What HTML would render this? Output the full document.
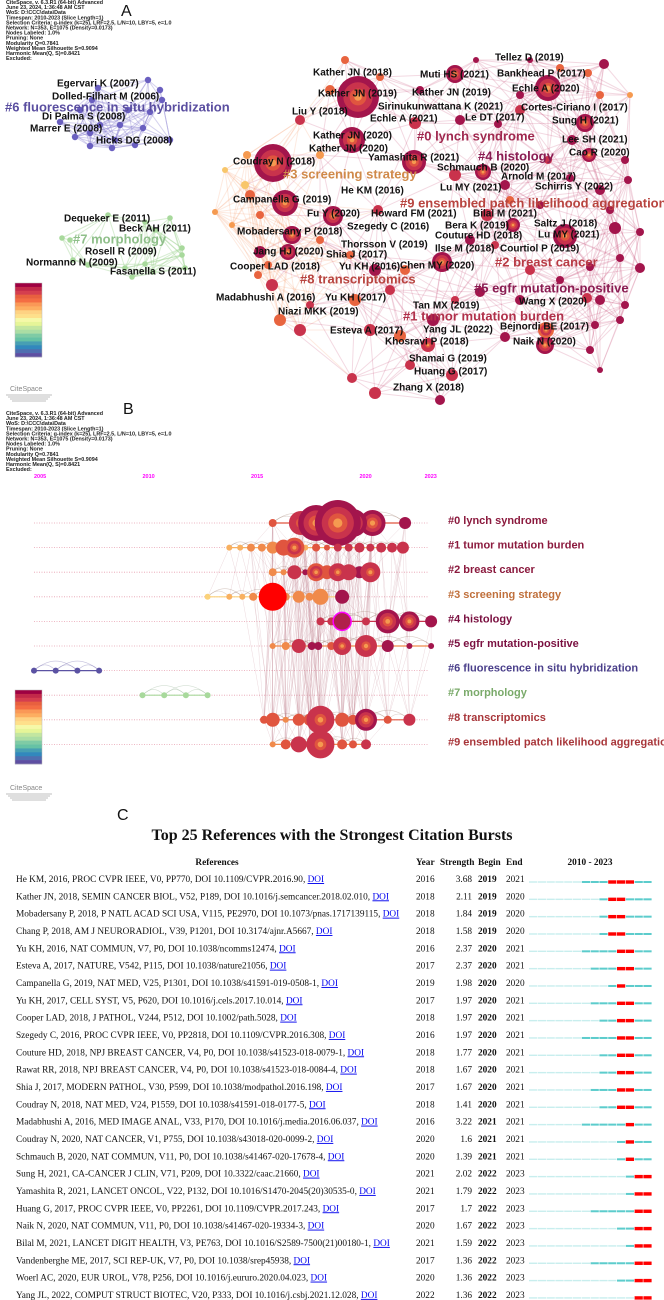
<!DOCTYPE html>
<html><head><meta charset="utf-8">
<style>
html,body{margin:0;padding:0;background:#fff;}
svg{display:block;}
.info{font-family:"Liberation Sans",sans-serif;font-size:5.4px;fill:#222;font-weight:bold;}
.lab{font-family:"Liberation Sans",sans-serif;font-weight:bold;font-size:10px;fill:#111;}
.clu{font-family:"Liberation Sans",sans-serif;font-weight:bold;font-size:13px;}
.bl{font-family:"Liberation Sans",sans-serif;font-weight:bold;font-size:11px;}
.tt{font-family:"Liberation Serif",serif;font-size:9.3px;fill:#111;}
.th{font-family:"Liberation Serif",serif;font-size:9.3px;font-weight:bold;fill:#111;}
</style></head>
<body>
<svg id="fig" width="664" height="1300" viewBox="0 0 664 1300" xmlns="http://www.w3.org/2000/svg">
  <g id="panelA"></g>
  <g id="panelB"></g>
  <g id="panelC"></g>
</svg>
<script>
// ---------- Panel B timeline data ----------
const clusterNames = ["#0 lynch syndrome","#1 tumor mutation burden","#2 breast cancer","#3 screening strategy","#4 histology","#5 egfr mutation-positive","#6 fluorescence in situ hybridization","#7 morphology","#8 transcriptomics","#9 ensembled patch likelihood aggregation"];
const clusterColors = ["#8b1a3e","#8b1a3e","#8b1a3e","#c0703c","#7a1040","#7a1040","#4a3f8a","#7aaa6a","#a8363a","#a8363a"];
const timelineTicks = [2005,2010,2015,2020,2023];
const nodeYears = [
 [2016.0,2017.3,2018.0,2019.0,2019.7,2020.6,2022.1],
 [2014.0,2014.5,2015.0,2015.5,2016.0,2016.5,2017.0,2017.5,2018.0,2018.5,2019.0,2019.5,2020.0,2020.5,2021.0,2021.5,2022.0],
 [2016.0,2016.5,2017.0,2017.5,2018.0,2018.5,2019.0,2019.5,2020.0,2020.5],
 [2013.0,2014.0,2014.6,2015.1,2016.0,2016.6,2017.2,2017.7,2018.2,2019.2],
 [2018.2,2018.7,2019.2,2020.3,2021.3,2022.3,2023.3],
 [2016.0,2016.6,2017.2,2017.8,2018.1,2018.7,2019.2,2020.3,2021.3,2022.3,2023.3],
 [2005.0,2006.0,2007.0,2008.0],
 [2010.0,2011.0,2012.0,2013.0],
 [2015.6,2016.0,2016.6,2017.2,2017.7,2018.2,2019.2,2019.7,2020.3,2021.3,2022.3],
 [2016.0,2016.6,2017.2,2017.7,2018.2,2019.2,2019.7,2020.3]
];
const nodeSizes = [
 [4,12,18,23,14,13,6],
 [3,3,4,4,6,8,10,3,4,3,4,4,5,4,5,5,6],
 [4,3,7,3,9,7,9,8,6,10],
 [3,3,3,4,14,4,6,4,8,7],
 [4,4,9,4,12,10,6],
 [3,4,7,4,4,4,9,11,6,3,3],
 [3,3,3,3],
 [3,3,3,3],
 [4,7,3,6,6,14,7,5,11,4,6],
 [3,5,8,4,14,5,4,5]
];
const nodeShade = [
 [2,1,0,0,0,0,0],
 [4,4,3,3,3,2,2,4,2,2,1,1,1,1,1,1,1],
 [3,3,1,0,2,2,1,1,0,1],
 [5,4,4,3,9,3,3,3,3,0],
 [1,1,8,1,0,0,0],
 [3,3,1,0,0,2,1,1,0,0,0],
 [6,6,6,6],
 [7,7,7,7],
 [2,2,3,2,2,1,2,2,0,2,1],
 [3,2,1,2,1,2,2,1]
];
// ---------- Panel C burst data ----------
const refTexts = [
"He KM, 2016, PROC CVPR IEEE, V0, PP770, DOI 10.1109/CVPR.2016.90, ",
"Kather JN, 2018, SEMIN CANCER BIOL, V52, P189, DOI 10.1016/j.semcancer.2018.02.010, ",
"Mobadersany P, 2018, P NATL ACAD SCI USA, V115, PE2970, DOI 10.1073/pnas.1717139115, ",
"Chang P, 2018, AM J NEURORADIOL, V39, P1201, DOI 10.3174/ajnr.A5667, ",
"Yu KH, 2016, NAT COMMUN, V7, P0, DOI 10.1038/ncomms12474, ",
"Esteva A, 2017, NATURE, V542, P115, DOI 10.1038/nature21056, ",
"Campanella G, 2019, NAT MED, V25, P1301, DOI 10.1038/s41591-019-0508-1, ",
"Yu KH, 2017, CELL SYST, V5, P620, DOI 10.1016/j.cels.2017.10.014, ",
"Cooper LAD, 2018, J PATHOL, V244, P512, DOI 10.1002/path.5028, ",
"Szegedy C, 2016, PROC CVPR IEEE, V0, PP2818, DOI 10.1109/CVPR.2016.308, ",
"Couture HD, 2018, NPJ BREAST CANCER, V4, P0, DOI 10.1038/s41523-018-0079-1, ",
"Rawat RR, 2018, NPJ BREAST CANCER, V4, P0, DOI 10.1038/s41523-018-0084-4, ",
"Shia J, 2017, MODERN PATHOL, V30, P599, DOI 10.1038/modpathol.2016.198, ",
"Coudray N, 2018, NAT MED, V24, P1559, DOI 10.1038/s41591-018-0177-5, ",
"Madabhushi A, 2016, MED IMAGE ANAL, V33, P170, DOI 10.1016/j.media.2016.06.037, ",
"Coudray N, 2020, NAT CANCER, V1, P755, DOI 10.1038/s43018-020-0099-2, ",
"Schmauch B, 2020, NAT COMMUN, V11, P0, DOI 10.1038/s41467-020-17678-4, ",
"Sung H, 2021, CA-CANCER J CLIN, V71, P209, DOI 10.3322/caac.21660, ",
"Yamashita R, 2021, LANCET ONCOL, V22, P132, DOI 10.1016/S1470-2045(20)30535-0, ",
"Huang G, 2017, PROC CVPR IEEE, V0, PP2261, DOI 10.1109/CVPR.2017.243, ",
"Naik N, 2020, NAT COMMUN, V11, P0, DOI 10.1038/s41467-020-19334-3, ",
"Bilal M, 2021, LANCET DIGIT HEALTH, V3, PE763, DOI 10.1016/S2589-7500(21)00180-1, ",
"Vandenberghe ME, 2017, SCI REP-UK, V7, P0, DOI 10.1038/srep45938, ",
"Woerl AC, 2020, EUR UROL, V78, P256, DOI 10.1016/j.eururo.2020.04.023, ",
"Yang JL, 2022, COMPUT STRUCT BIOTEC, V20, P333, DOI 10.1016/j.csbj.2021.12.028, "
];
const refYears = [2016,2018,2018,2018,2016,2017,2019,2017,2018,2016,2018,2018,2017,2018,2016,2020,2020,2021,2021,2017,2020,2021,2017,2020,2022];
const strengths = ["3.68","2.11","1.84","1.58","2.37","2.37","1.98","1.97","1.97","1.97","1.77","1.67","1.67","1.41","3.22","1.6","1.39","2.02","1.79","1.7","1.67","1.59","1.36","1.36","1.36"];
const burstBegin = [2019,2019,2019,2019,2020,2020,2020,2020,2020,2020,2020,2020,2020,2020,2021,2021,2021,2022,2022,2022,2022,2022,2022,2022,2022];
const burstEnd = [2021,2020,2020,2020,2021,2021,2020,2021,2021,2021,2021,2021,2021,2021,2021,2021,2021,2023,2023,2023,2023,2023,2023,2023,2023];
const spanStart = 2010, spanEnd = 2023;

const NS="http://www.w3.org/2000/svg";
function mk(tag, parent, attrs){const e=document.createElementNS(NS,tag);for(const k in attrs)e.setAttribute(k,attrs[k]);parent.appendChild(e);return e;}
const shades=["#a3154c","#c9334c","#e0553f","#f08a4b","#f8b060","#fbd27a","#5b52a3","#a8d99c","#ff1010","#ff0000"];

// ---------- info block ----------
const infoLines=["CiteSpace, v. 6.3.R1 (64-bit) Advanced","June 23, 2024, 1:36:48 AM CST","WoS: D:\\CCC\\data\\Data","Timespan: 2010-2023 (Slice Length=1)","Selection Criteria: g-index (k=25), LRF=2.5, L/N=10, LBY=5, e=1.0","Network: N=353, E=1075 (Density=0.0173)","Nodes Labeled: 1.0%","Pruning: None","Modularity Q=0.7841","Weighted Mean Silhouette S=0.9094","Harmonic Mean(Q, S)=0.8421","Excluded:"];
function info(parent,y0,name){
  const g=mk('g',parent,{});
  
  
  infoLines.forEach((s,i)=>{const t=mk('text',g,{x:6,y:y0+i*5.1,class:'info'});t.textContent=s;});
}
function colorbar(parent,y0,name){
  const g=mk('g',parent,{});
  
  
  const cols=["#9e0142","#c2294a","#d53e4f","#e8603f","#f46d43","#fa9857","#fdae61","#fed283","#fee08b","#f5f9a8","#e6f598","#c3e6a0","#abdda4","#7fcba5","#66c2a5","#479fb3","#3288bd","#4f6eb0","#5e4fa2"];
  const h=74/cols.length;
  cols.forEach((c,i)=>{mk('rect',g,{x:15,y:y0+i*h,width:27,height:h+0.3,fill:c});});
  mk('rect',g,{x:15,y:y0,width:27,height:74,fill:'none',stroke:'#bbb','stroke-width':0.5});
}
function logo(parent,y0,name){
  const g=mk('g',parent,{});
  
  
  const t=mk('text',g,{x:10,y:y0,'font-family':'Liberation Sans, sans-serif','font-size':'7px',fill:'#888'});t.textContent='CiteSpace';
  for(let i=0;i<4;i++) mk('line',g,{x1:6+i*2,y1:y0+4+i*2,x2:52-i*2,y2:y0+4+i*2,stroke:'#aaa','stroke-width':0.8});
}

// ---------- Panel A ----------
const A=document.getElementById('panelA');
info(A,4,'panel-a-info');
{const t=mk('text',A,{x:121,y:16,'font-family':'Liberation Sans, sans-serif','font-size':'16px',fill:'#111'});t.textContent='A';
}
const D='#a3154c',M='#c9334c',O='#e8643f',L='#f59a50',Y='#f8c66a';
const aNodes=[[358,97,21,D],[273,163,19,D],[352,140,13,D],[414,162,12,D],[285,203,13,D],[333,216,10,D],[455,74,9,D],[548,88,13,D],[585,123,9,D],[292,235,9,D],[288,252,8,D],[483,172,8,D],[545,345,9,D],[546,330,8,O],[565,236,12,D],[428,345,7,M],[452,375,6,M],[442,262,10,D],[415,123,6,M],[455,175,6,M],[505,185,5,D],[572,140,5,D],[589,155,7,D],[520,110,5,M],[513,225,7,D],[487,215,6,M],[378,210,5,M],[375,270,6,D],[405,270,5,O],[272,285,6,M],[300,330,6,M],[355,300,6,O],[260,252,6,D],[433,320,6,D],[505,337,5,D],[400,336,6,O],[370,330,6,M],[410,365,5,M],[440,400,5,D],[375,393,6,M],[352,378,5,M],[595,325,4,D],[600,300,5,D],[625,305,4,D],[620,320,4,D],[640,268,5,D],[620,258,4,D],[590,267,4,D],[587,298,5,M],[590,350,4,D],[600,370,3,D],[480,292,5,D],[390,290,5,M],[520,95,4,D],[604,64,5,D],[560,68,4,O],[588,73,4,O],[460,120,5,D],[498,124,4,D],[420,90,4,D],[330,90,5,O],[300,120,5,M],[320,155,4,L],[247,155,4,L],[250,195,5,O],[260,215,4,O],[232,225,3,L],[245,185,4,Y],[225,170,3,Y],[215,212,3,L],[258,275,4,O],[268,265,4,O],[280,320,6,O],[310,305,4,M],[350,255,4,O],[320,240,4,O],[470,240,5,D],[495,245,4,M],[530,270,5,M],[560,280,4,D],[510,200,4,O],[540,205,4,D],[600,190,5,D],[610,210,4,D],[625,160,4,D],[628,180,4,D],[570,178,4,D],[548,160,4,M],[600,95,4,O],[630,95,3,L],[530,60,3,D],[476,60,3,D],[380,77,4,O],[345,60,4,O],[615,228,6,D],[640,232,4,D],[455,300,4,M],[520,300,5,D]];
const edgesG=mk('g',A,{});


for(let i=0;i<aNodes.length;i++)for(let j=i+1;j<aNodes.length;j++){
  const a=aNodes[i],b=aNodes[j];const d=Math.hypot(a[0]-b[0],a[1]-b[1]);
  if(d<95){const warm=(a[0]<320)?'#f4a070':'#c8507a';
    mk('line',edgesG,{x1:a[0],y1:a[1],x2:b[0],y2:b[1],stroke:warm,'stroke-opacity':0.22,'stroke-width':1});}
}
const purple=[[148,80],[98,88],[160,90],[92,100],[162,100],[128,110],[80,110],[150,112],[60,122],[100,125],[120,125],[90,133],[143,128],[75,137],[115,140],[170,140],[90,146],[112,148],[135,145]];
const green=[[108,215],[170,218],[145,222],[70,240],[62,238],[155,230],[182,248],[182,255],[145,264],[125,268],[88,265],[73,260],[185,268],[153,272],[132,277]];
purple.forEach(p=>{purple.forEach(q=>{if(Math.hypot(p[0]-q[0],p[1]-q[1])<60)mk('line',edgesG,{x1:p[0],y1:p[1],x2:q[0],y2:q[1],stroke:'#8a80d0','stroke-opacity':0.2});});});
green.forEach(p=>{green.forEach(q=>{if(Math.hypot(p[0]-q[0],p[1]-q[1])<60)mk('line',edgesG,{x1:p[0],y1:p[1],x2:q[0],y2:q[1],stroke:'#a8d99c','stroke-opacity':0.25});});});
const nodesG=mk('g',A,{});


aNodes.forEach(n=>{
  mk('circle',nodesG,{cx:n[0],cy:n[1],r:n[2],fill:n[3]});
  if(n[2]>=7){mk('circle',nodesG,{cx:n[0],cy:n[1],r:n[2]*0.7,fill:'#c9334c'});mk('circle',nodesG,{cx:n[0],cy:n[1],r:n[2]*0.4,fill:'#e0553f'});mk('circle',nodesG,{cx:n[0],cy:n[1],r:n[2]*0.18,fill:'#f59a50'});}
});
purple.forEach(p=>mk('circle',nodesG,{cx:p[0],cy:p[1],r:3.2,fill:'#6a5fc0'}));
green.forEach(p=>mk('circle',nodesG,{cx:p[0],cy:p[1],r:2.8,fill:'#a8d99c'}));
const refLabels=[["Egervari K (2007)",57,83],["Dolled-Filhart M (2006)",52,96],["Di Palma S (2008)",42,116],["Marrer E (2008)",30,128],["Hicks DG (2008)",96,140],
["Kather JN (2018)",313,72],["Muti HS (2021)",420,74],["Bankhead P (2017)",497,73],["Tellez D (2019)",495,57],["Kather JN (2019)",318,93],["Kather JN (2019)",412,92],["Echle A (2020)",512,88],
["Sirinukunwattana K (2021)",378,106],["Cortes-Ciriano I (2017)",521,107],["Liu Y (2018)",292,111],["Echle A (2021)",370,118],["Le DT (2017)",465,117],["Sung H (2021)",552,120],
["Kather JN (2020)",313,135],["Kather JN (2020)",309,148],["Lee SH (2021)",562,139],["Cao R (2020)",569,152],["Yamashita R (2021)",368,157],["Coudray N (2018)",233,161],["Schmauch B (2020)",437,167],
["Arnold M (2017)",501,176],["He KM (2016)",341,190],["Lu MY (2021)",440,187],["Schirris Y (2022)",535,186],["Campanella G (2019)",233,199],["Fu Y (2020)",307,213],["Howard FM (2021)",371,213],
["Bilal M (2021)",473,213],["Szegedy C (2016)",347,226],["Bera K (2019)",445,225],["Saltz J (2018)",534,223],["Mobadersany P (2018)",237,231],["Couture HD (2018)",435,235],["Lu MY (2021)",538,234],
["Thorsson V (2019)",341,244],["Ilse M (2018)",435,248],["Courtiol P (2019)",500,248],["Jang HJ (2020)",253,251],["Shia J (2017)",326,254],["Cooper LAD (2018)",230,266],["Yu KH (2016)",339,266],["Chen MY (2020)",400,265],
["Madabhushi A (2016)",216,297],["Yu KH (2017)",325,297],["Niazi MKK (2019)",278,311],["Wang X (2020)",519,301],["Tan MX (2019)",413,305],["Esteva A (2017)",330,330],["Yang JL (2022)",423,329],["Bejnordi BE (2017)",500,326],
["Khosravi P (2018)",385,341],["Naik N (2020)",513,341],["Shamai G (2019)",409,358],["Huang G (2017)",414,371],["Zhang X (2018)",393,387],
["Dequeker E (2011)",64,218],["Beck AH (2011)",119,228],["Rosell R (2009)",85,251],["Normanno N (2009)",26,262],["Fasanella S (2011)",110,271]];
const labG=mk('g',A,{});


refLabels.forEach(l=>{const t=mk('text',labG,{x:l[1],y:l[2]+3.5,class:'lab'});t.textContent=l[0];
  });
const cluLabels=[["#0 lynch syndrome",417,136,"#a0284f"],["#1 tumor mutation burden",403,316,"#b0304a"],["#2 breast cancer",495,262,"#b83a44"],["#3 screening strategy",283,174,"#d08a4a"],["#4 histology",478,156,"#8a1c52"],["#5 egfr mutation-positive",474,288,"#8a1c52"],["#6 fluorescence in situ hybridization",5,107,"#5a4ea0"],["#7 morphology",73,239,"#8fbf8a"],["#8 transcriptomics",300,279,"#b8443f"],["#9 ensembled patch likelihood aggregation",400,203,"#b8443f"]];
cluLabels.forEach(l=>{const t=mk('text',A,{x:l[1],y:l[2]+4.5,class:'clu',fill:l[3]});t.textContent=l[0];
  });
colorbar(A,283,'panel-a-year-colorbar');
logo(A,391,'panel-a-citespace-logo');

// ---------- Panel B ----------
const B=document.getElementById('panelB');
info(B,415,'panel-b-info');
{const t=mk('text',B,{x:123,y:414,'font-family':'Liberation Sans, sans-serif','font-size':'16px',fill:'#111'});t.textContent='B';
}
function yearX(yr){return 34+(yr-2005)*21.7;}
function rowY(i){return 523+i*24.6;}
timelineTicks.forEach(yr=>{const t=mk('text',B,{x:yearX(yr),y:478,'font-family':'Liberation Sans, sans-serif','font-size':'5.5px','font-weight':'bold',fill:'#ff00ff'});t.textContent=String(yr);
  });
const bEdges=mk('g',B,{});


for(let i=0;i<10;i++){
  mk('line',bEdges,{x1:yearX(2005),y1:rowY(i),x2:yearX(2023)+3,y2:rowY(i),stroke:'#e8a0b0','stroke-width':0.8,'stroke-dasharray':'1,1.5'});
}
for(let i=0;i<10;i++)for(let j=i+1;j<10;j++){
  if(i>=6&&i<=7||j>=6&&j<=7)continue;
  nodeYears[i].forEach((a,ai)=>{nodeYears[j].forEach((b,bi)=>{
    if(Math.abs(a-b)<1.1&&((ai+bi)%2===0)) mk('line',bEdges,{x1:yearX(a),y1:rowY(i),x2:yearX(b),y2:rowY(j),stroke:'#c08090','stroke-opacity':0.3,'stroke-width':0.5});
  });});
}
for(let i=0;i<10;i++){
  const ys=nodeYears[i];
  for(let k=0;k<ys.length-1;k++){
    for(let s=1;s<=2&&k+s<ys.length;s++){
      const x1=yearX(ys[k]),x2=yearX(ys[k+s]);const h=(x2-x1)*0.35+4;
      mk('path',bEdges,{d:`M${x1},${rowY(i)} Q${(x1+x2)/2},${rowY(i)-h} ${x2},${rowY(i)}`,fill:'none',stroke:i===6?'#6a60a8':(i===7?'#90b090':'#a08070'),'stroke-opacity':0.4,'stroke-width':0.6});
    }
  }
  mk('line',bEdges,{x1:yearX(ys[0]),y1:rowY(i),x2:yearX(ys[ys.length-1]),y2:rowY(i),stroke:shades[nodeShade[i][0]],'stroke-width':1.2});
}
for(let i=0;i<10;i++){
  const g=mk('g',B,{});
  
  
  const order=nodeYears[i].map((_,k)=>k).sort((a,b)=>nodeSizes[i][a]-nodeSizes[i][b]);
  order.forEach(k=>{
    const x=yearX(nodeYears[i][k]),r=nodeSizes[i][k],c=shades[nodeShade[i][k]];
    const n=mk('circle',g,{cx:x,cy:rowY(i),r:r,fill:c});
    
    
    if(r>=9&&nodeShade[i][k]<6){mk('circle',g,{cx:x,cy:rowY(i),r:r*0.7,fill:'#c9334c'});mk('circle',g,{cx:x,cy:rowY(i),r:r*0.42,fill:'#e0553f'});mk('circle',g,{cx:x,cy:rowY(i),r:r*0.2,fill:'#f59a50'});}
    if(nodeShade[i][k]===8){n.setAttribute('fill','#b0204c');n.setAttribute('stroke','#ff00ff');n.setAttribute('stroke-width',1.5);}
  });
  const t=mk('text',B,{x:448,y:rowY(i)+1,class:'bl',fill:clusterColors[i]});t.textContent=clusterNames[i];
  
}
colorbar(B,690,'panel-b-year-colorbar');
logo(B,790,'panel-b-citespace-logo');

// ---------- Panel C ----------
const C=document.getElementById('panelC');
{const t=mk('text',C,{x:117,y:820,'font-family':'Liberation Sans, sans-serif','font-size':'16px',fill:'#111'});t.textContent='C';
}
{const t=mk('text',C,{x:332,y:840,'text-anchor':'middle','font-family':'Liberation Serif, serif','font-size':'16px','font-weight':'bold',fill:'#111'});t.textContent='Top 25 References with the Strongest Citation Bursts';
}
const heads=[["References",217,'middle'],["Year",416,'start'],["Strength",440,'start'],["Begin",478,'start'],["End",506,'start'],["2010 - 2023",590,'middle']];
heads.forEach(h=>{const t=mk('text',C,{x:h[1],y:865,class:'th','text-anchor':h[2]});t.textContent=h[0];
  });
const barX0=529, yrW=8.8;
function barX(yr){return barX0+(yr-spanStart)*yrW;}
refTexts.forEach((s,i)=>{
  const y=879+i*17.33;
  const g=mk('g',C,{});
  
  
  const t=mk('text',g,{x:16,y:y+3,class:'tt'});t.textContent=s;
  const doi=mk('tspan',t,{fill:'#0000ee','text-decoration':'underline'});doi.textContent='DOI';
  
  
  const yt=mk('text',g,{x:416,y:y+3,class:'tt'});yt.textContent=String(refYears[i]);
  const st=mk('text',g,{x:472,y:y+3,class:'tt','text-anchor':'end'});st.textContent=strengths[i];
  const bt=mk('text',g,{x:478,y:y+3,class:'th'});bt.textContent=String(burstBegin[i]);
  const et=mk('text',g,{x:506,y:y+3,class:'tt'});et.textContent=String(burstEnd[i]);
  for(let yr=spanStart;yr<=spanEnd;yr++){
    let c='#c8eeee',h=1.4;
    if(yr>=refYears[i]){c='#5ccccc';h=2;}
    if(yr>=burstBegin[i]&&yr<=burstEnd[i]){c='#ff0000';h=3.4;}
    const r=mk('rect',g,{x:barX(yr),y:y+3-h/2,width:yrW-0.6,height:h,fill:c});
    
    
  }
});
</script>
</body></html>
